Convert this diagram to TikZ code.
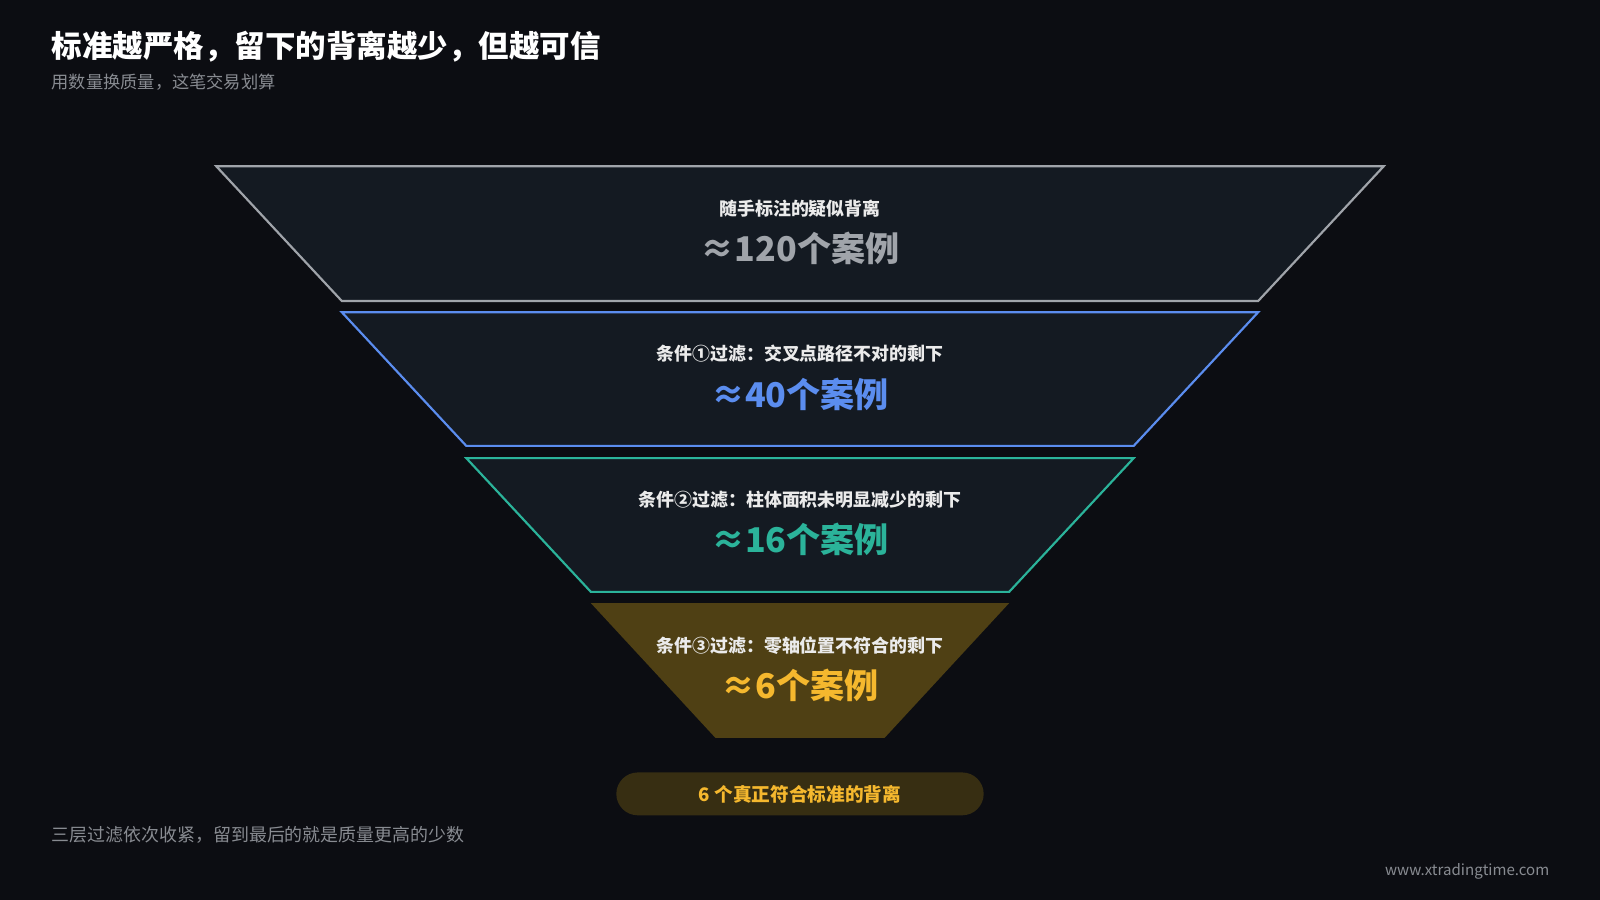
\documentclass[tikz,border=0pt]{standalone}
\usepackage{fontspec}
\setmainfont{Noto Sans CJK SC}
\definecolor{bgc}{HTML}{0C0D12}
\definecolor{panel}{HTML}{141A22}
\definecolor{grayc}{HTML}{A0A4AA}
\definecolor{bluec}{HTML}{5B8DEF}
\definecolor{tealc}{HTML}{2BB39A}
\definecolor{goldc}{HTML}{F5B82E}
\definecolor{goldf}{HTML}{4F4014}
\definecolor{pillf}{HTML}{372E12}
\tikzset{
  layer/.style={fill=panel, line width=0.6pt},
  caption/.style={font=\fontsize{5pt}{6pt}\selectfont\bfseries, text=white!92!black},
  big/.style={font=\fontsize{9.5pt}{11pt}\selectfont\bfseries},
  note/.style={font=\fontsize{5pt}{6pt}\selectfont, text=grayc!85!black, anchor=west, inner sep=0pt}
}
\begin{document}
\begin{tikzpicture}[x=0.01cm,y=-0.01cm]
\fill[bgc] (0,0) rectangle (1568,882);
\useasboundingbox (0,0) rectangle (1568,882);
% title
\node[anchor=west, inner sep=0pt, text=white, font=\fontsize{8.5pt}{10pt}\selectfont\bfseries] (title) at (50,46) {标准越严格，留下的背离越少，但越可信};
\node[note, font=\fontsize{4.8pt}{6pt}\selectfont] (sub) at (50,80) {用数量换质量，这笔交易划算};
% funnel
\draw[layer, draw=grayc] (212,163) -- (1356,163) -- (1233,295) -- (335,295) -- cycle;
\draw[layer, draw=bluec] (335,306) -- (1233,306) -- (1111,437) -- (457,437) -- cycle;
\draw[layer, draw=tealc] (457,449) -- (1111,449) -- (989,580) -- (579,580) -- cycle;
\fill[goldf] (579,591) -- (989,591) -- (867,723) -- (701,723) -- cycle;
\node[caption] (c1) at (784,204) {随手标注的疑似背离};
\node[big, text=grayc] (n1) at (784,243) {≈120个案例};
\node[caption] (c2) at (784,347) {条件①过滤：交叉点路径不对的剩下};
\node[big, text=bluec] (n2) at (784,386) {≈40个案例};
\node[caption] (c3) at (784,490) {条件②过滤：柱体面积未明显减少的剩下};
\node[big, text=tealc] (n3) at (784,529) {≈16个案例};
\node[caption] (c4) at (784,633) {条件③过滤：零轴位置不符合的剩下};
\node[big, text=goldc] (n4) at (784,672) {≈6个案例};
% result
\fill[pillf, rounded corners=0.21cm] (604,757) rectangle (964,799);
\node[text=goldc, font=\fontsize{5.2pt}{6pt}\selectfont\bfseries] (res) at (784,778) {6 个真正符合标准的背离};
% footer
\node[note] (foot) at (50,818) {三层过滤依次收紧，留到最后的就是质量更高的少数};
\node[note, anchor=east, font=\fontsize{4.2pt}{5pt}\selectfont] (url) at (1519,854) {www.xtradingtime.com};
\end{tikzpicture}
\end{document}
